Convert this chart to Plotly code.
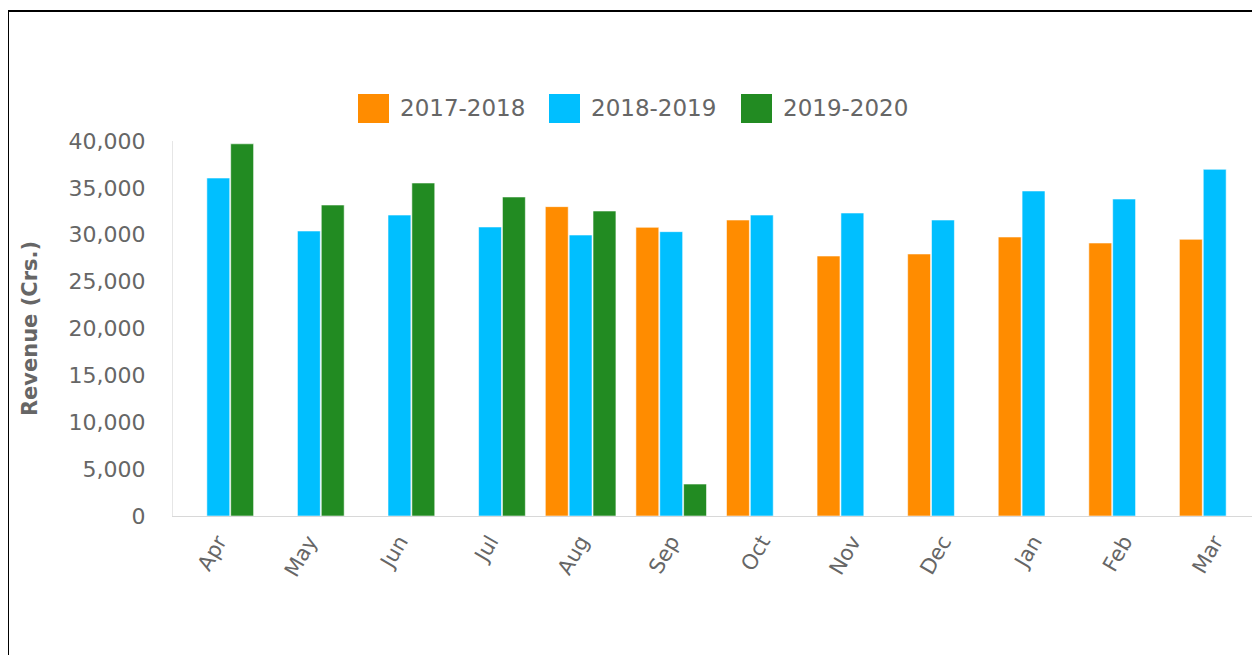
import plotly.graph_objects as go

months = ["Apr", "May", "Jun", "Jul", "Aug", "Sep", "Oct", "Nov", "Dec", "Jan", "Feb", "Mar"]
series_names = ["2017-2018", "2018-2019", "2019-2020"]
fy_2017_18 = [None, None, None, None, 33000, 30790, 31570, 27730, 27950, 29760, 29120, 29510]
fy_2018_19 = [36050, 30400, 32100, 30830, 29970, 30330, 32100, 32320, 31570, 34670, 33810, 36980]
fy_2019_20 = [39700, 33170, 35520, 34030, 32530, 3410, None, None, None, None, None, None]
colors = ["#FF8C00", "#00BFFF", "#228B22"]
y_ticks = [0, 5000, 10000, 15000, 20000, 25000, 30000, 35000, 40000]

# the page body adds an 8px margin; size the figure so the page is filled
OFF = 8
PAGE_W, PAGE_H = 1260, 655
W, H = PAGE_W - OFF, PAGE_H - OFF
L = 173 - OFF
T = 141 - OFF
B = PAGE_H - 516
R = 0
PW, PH = W - L - R, H - T - B

def px(x_page):
    return (x_page - OFF - L) / PW

def py(y_page):
    return (H - B - (y_page - OFF)) / PH

fig = go.Figure()
for name, vals, col in zip(series_names, [fy_2017_18, fy_2018_19, fy_2019_20], colors):
    fig.add_trace(go.Bar(
        x=months, y=vals, name=name,
        marker=dict(color=col, line=dict(color="rgba(255,255,255,0.55)", width=1)),
        showlegend=False,
    ))

font_family = "DejaVu Sans"
txt_color = "#666666"

shapes = []
annotations = []
# custom legend
legend_x = [358, 549, 741]
for lx, name, col in zip(legend_x, series_names, colors):
    shapes.append(dict(type="rect", xref="paper", yref="paper",
                       x0=px(lx), x1=px(lx + 31), y0=py(123), y1=py(94),
                       fillcolor=col, line=dict(width=0)))
    annotations.append(dict(xref="paper", yref="paper", x=px(lx + 40), y=py(108),
                            text=name, showarrow=False, xanchor="left", yanchor="middle",
                            font=dict(family=font_family, size=23, color=txt_color)))
# outer frame
shapes.append(dict(type="rect", xref="paper", yref="paper",
                   x0=px(8), x1=px(PAGE_W + 20), y0=py(PAGE_H + 20), y1=py(11),
                   line=dict(color="black", width=2), fillcolor="rgba(0,0,0,0)"))

fig.update_layout(
    width=W, height=H,
    margin=dict(l=L, r=R, t=T, b=B, autoexpand=False),
    paper_bgcolor="white", plot_bgcolor="white",
    barmode="group", bargap=0.21, bargroupgap=0.04,
    shapes=shapes, annotations=annotations,
    font=dict(family=font_family, color=txt_color),
)
fig.update_xaxes(
    showline=True, linecolor="#d8d8d8", linewidth=1, showgrid=False,
    tickangle=-60, tickfont=dict(family=font_family, size=21, color=txt_color),
    ticks="", ticklabelstandoff=4,
)
fig.update_yaxes(
    range=[0, 40000], tickvals=y_ticks, tickformat=",",
    showline=True, linecolor="#e6e6e6", linewidth=1, showgrid=False, zeroline=False,
    tickfont=dict(family=font_family, size=22, color=txt_color),
    ticks="", ticklabelstandoff=22,
    title=dict(text="<b>Revenue (Crs.)</b>", standoff=25,
               font=dict(family=font_family, size=21, color=txt_color)),
)

fig.write_html("out.html")
